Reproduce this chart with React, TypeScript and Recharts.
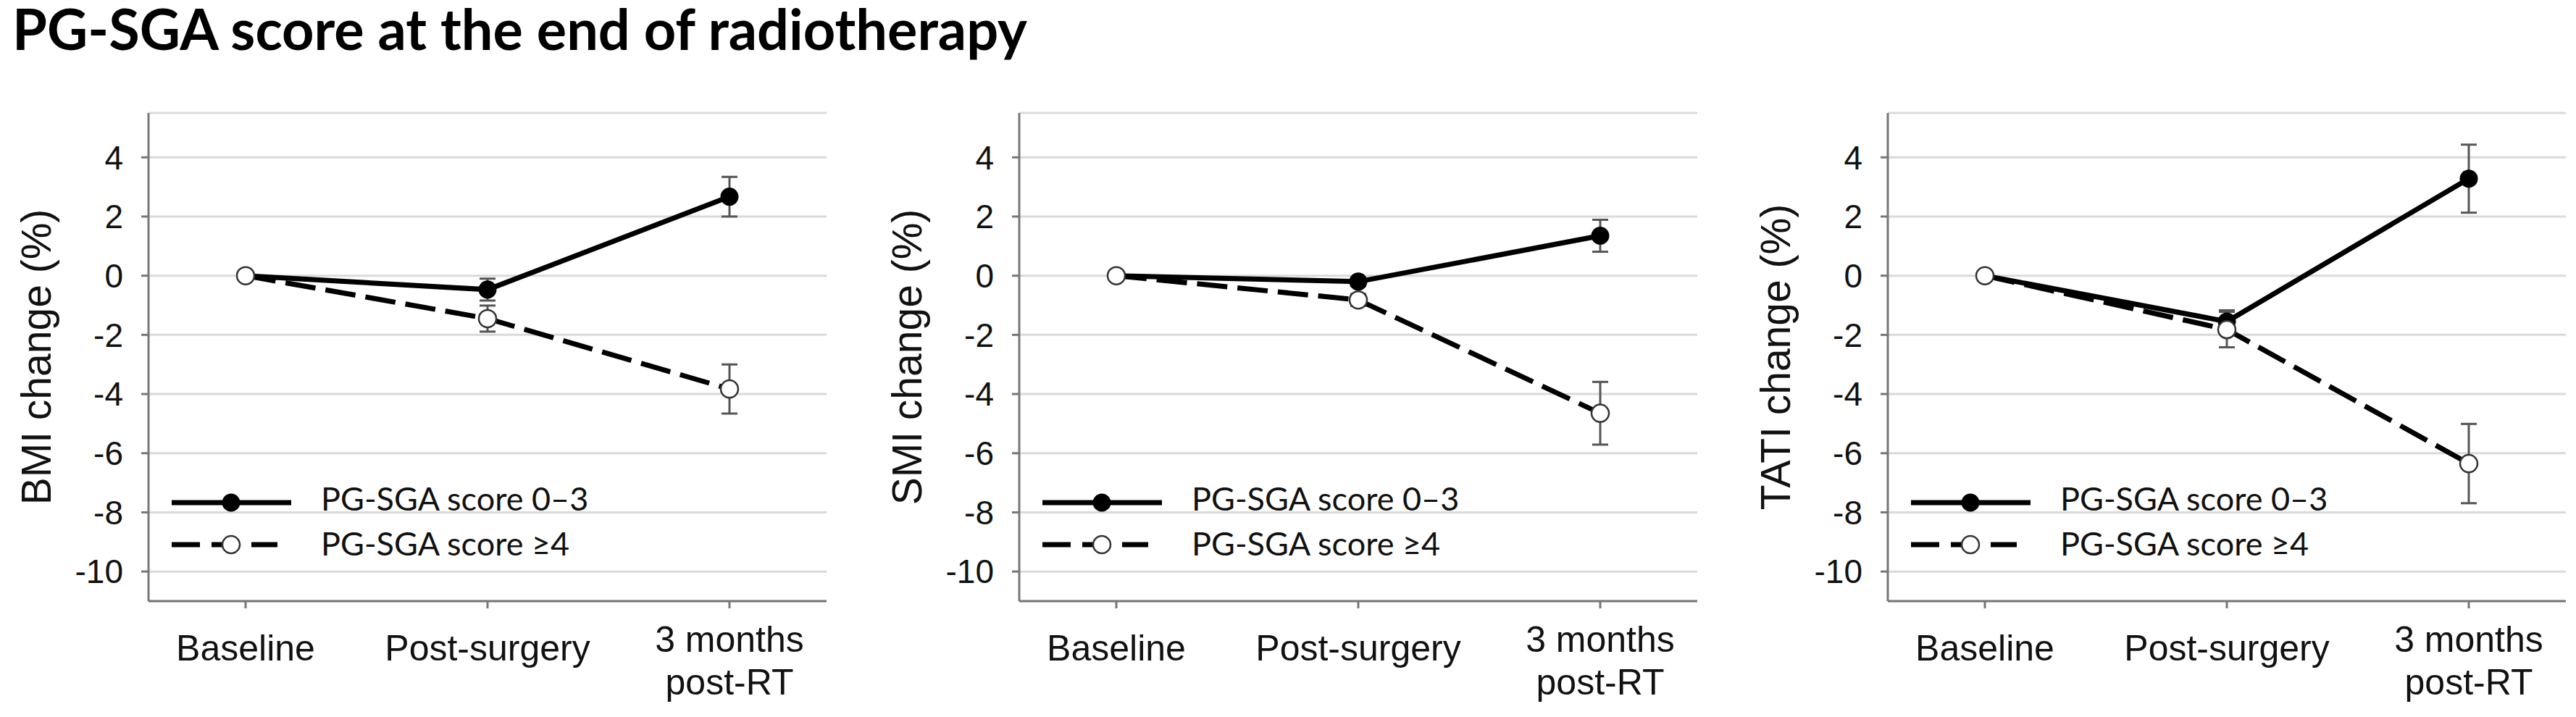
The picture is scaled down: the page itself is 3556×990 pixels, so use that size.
import React from 'react';
import { LineChart, Line, XAxis, YAxis, CartesianGrid, ErrorBar, Legend } from 'recharts';

// timepoints on the x axis (\n splits a label over two lines)
const TIMEPOINTS = ['Baseline', 'Post-surgery', '3 months\npost-RT'];
const Y_TICKS = [-10, -8, -6, -4, -2, 0, 2, 4];

// mean change (%) and error for PG-SGA 0–3 (low) and ≥4 (high)
const BMI_LOW = [0, -0.47, 2.67];
const BMI_LOW_ERR = [0, 0.37, 0.67];
const BMI_HIGH = [0, -1.45, -3.83];
const BMI_HIGH_ERR = [0, 0.44, 0.83];

const SMI_LOW = [0, -0.2, 1.35];
const SMI_LOW_ERR = [0, 0.15, 0.54];
const SMI_HIGH = [0, -0.82, -4.65];
const SMI_HIGH_ERR = [0, 0.2, 1.06];

const TATI_LOW = [0, -1.55, 3.28];
const TATI_LOW_ERR = [0, 0.38, 1.15];
const TATI_HIGH = [0, -1.82, -6.35];
const TATI_HIGH_ERR = [0, 0.6, 1.34];

const LOW_NAME = 'PG-SGA score 0–3';
const HIGH_NAME = 'PG-SGA score ≥4';

const PLOT_TOP = 156;
const PLOT_BOTTOM = 830;
const AXIS_GREY = '#777';
const ARIAL = '"Liberation Sans", Arial, sans-serif';
const CALIBRI = 'Lato, "Open Sans", sans-serif';

function TimeTick(props: any) {
  const { x, y, payload } = props;
  const lines = String(payload.value).split('\n');
  const first = lines.length > 1 ? 58 : 70;
  return (
    <text x={x} y={y} textAnchor="middle" fontFamily={ARIAL} fontSize={50} fill="#111">
      {lines.map((l, i) => (
        <tspan key={i} x={x} y={y + first + i * 59}>
          {l}
        </tspan>
      ))}
    </text>
  );
}

function AxisTitle({ text }: { text: string }) {
  const cx = 70;
  const cy = (PLOT_TOP + PLOT_BOTTOM) / 2;
  return (
    <text
      x={cx}
      y={cy}
      transform={`rotate(-90 ${cx} ${cy})`}
      textAnchor="middle"
      fontFamily={ARIAL}
      fontSize={57}
      fill="#111"
    >
      {text}
    </text>
  );
}

const solidDot = (p: any) => <circle key={`s${p.index}`} cx={p.cx} cy={p.cy} r={12.5} fill="#000" />;
const openDot = (p: any) => (
  <circle key={`o${p.index}`} cx={p.cx} cy={p.cy} r={12} fill="#fff" stroke="#333" strokeWidth={2.5} />
);

function LegendBox() {
  const rows = [
    { name: LOW_NAME, y: 44, textY: 55, dashed: false },
    { name: HIGH_NAME, y: 102, textY: 117, dashed: true },
  ];
  return (
    <svg width={700} height={130} style={{ display: 'block' }}>
      {rows.map((r) => (
        <g key={r.name}>
          <line
            x1={7}
            x2={r.dashed ? 153 : 172}
            y1={r.y}
            y2={r.y}
            stroke="#000"
            strokeWidth={7}
            strokeDasharray={r.dashed ? '39 16' : undefined}
          />
          {r.dashed ? (
            <circle cx={89} cy={r.y} r={12} fill="#fff" stroke="#333" strokeWidth={2.5} />
          ) : (
            <circle cx={89} cy={r.y} r={12.5} fill="#000" />
          )}
          <text x={213} y={r.textY} fontFamily={CALIBRI} fontSize={45} fill="#111">
            {r.name}
          </text>
        </g>
      ))}
    </svg>
  );
}

interface PanelProps {
  yLabel: string;
  low: number[];
  lowErr: number[];
  high: number[];
  highErr: number[];
}

function Panel({ yLabel, low, lowErr, high, highErr }: PanelProps) {
  const data = TIMEPOINTS.map((name, i) => ({
    name,
    low: low[i],
    lowErr: lowErr[i],
    high: high[i],
    highErr: highErr[i],
  }));

  return (
    <LineChart width={1200} height={990} data={data} margin={{ top: PLOT_TOP, right: 59, bottom: 60, left: 0 }}>
      <CartesianGrid vertical={false} stroke="#dadada" strokeWidth={3} />
      <XAxis
        dataKey="name"
        height={100}
        interval={0}
        padding={{ left: 134, right: 134 }}
        axisLine={{ stroke: AXIS_GREY, strokeWidth: 3 }}
        tickLine={{ stroke: AXIS_GREY, strokeWidth: 3 }}
        tickSize={10}
        tick={<TimeTick />}
      />
      <YAxis
        width={205}
        domain={[-11, 5.5]}
        ticks={Y_TICKS}
        interval={0}
        axisLine={{ stroke: AXIS_GREY, strokeWidth: 3 }}
        tickLine={{ stroke: AXIS_GREY, strokeWidth: 3 }}
        tickSize={10}
        tickMargin={25}
        tick={{ fontSize: 46, fill: '#111', fontFamily: ARIAL }}
        label={<AxisTitle text={yLabel} />}
      />
      <Legend
        layout="horizontal"
        verticalAlign="middle"
        align="center"
        wrapperStyle={{ left: 230, top: 650, width: 700, height: 130 }}
        content={() => <LegendBox />}
      />
      <Line
        type="linear"
        dataKey="low"
        name={LOW_NAME}
        stroke="#000"
        strokeWidth={7}
        dot={solidDot}
        activeDot={false}
        isAnimationActive={false}
      >
        <ErrorBar dataKey="lowErr" width={11} stroke="#555" strokeWidth={3} direction="y" />
      </Line>
      <Line
        type="linear"
        dataKey="high"
        name={HIGH_NAME}
        stroke="#000"
        strokeWidth={7}
        strokeDasharray="42 14"
        dot={openDot}
        activeDot={false}
        isAnimationActive={false}
      >
        <ErrorBar dataKey="highErr" width={11} stroke="#555" strokeWidth={3} direction="y" />
      </Line>
    </LineChart>
  );
}

export default function App() {
  return (
    <div style={{ position: 'absolute', left: 0, top: 0, width: 3556, height: 990, background: '#fff' }}>
      <div style={{ position: 'absolute', left: 0, top: 0 }}>
        <Panel yLabel="BMI change (%)" low={BMI_LOW} lowErr={BMI_LOW_ERR} high={BMI_HIGH} highErr={BMI_HIGH_ERR} />
      </div>
      <div style={{ position: 'absolute', left: 1202, top: 0 }}>
        <Panel yLabel="SMI change (%)" low={SMI_LOW} lowErr={SMI_LOW_ERR} high={SMI_HIGH} highErr={SMI_HIGH_ERR} />
      </div>
      <div style={{ position: 'absolute', left: 2401, top: 0 }}>
        <Panel
          yLabel="TATI change (%)"
          low={TATI_LOW}
          lowErr={TATI_LOW_ERR}
          high={TATI_HIGH}
          highErr={TATI_HIGH_ERR}
        />
      </div>
      <svg width={3556} height={110} style={{ position: 'absolute', left: 0, top: 0 }}>
        <text x={17} y={69} fontFamily={CALIBRI} fontWeight={700} fontSize={77.5} fill="#000">
          PG-SGA score at the end of radiotherapy
        </text>
      </svg>
    </div>
  );
}
